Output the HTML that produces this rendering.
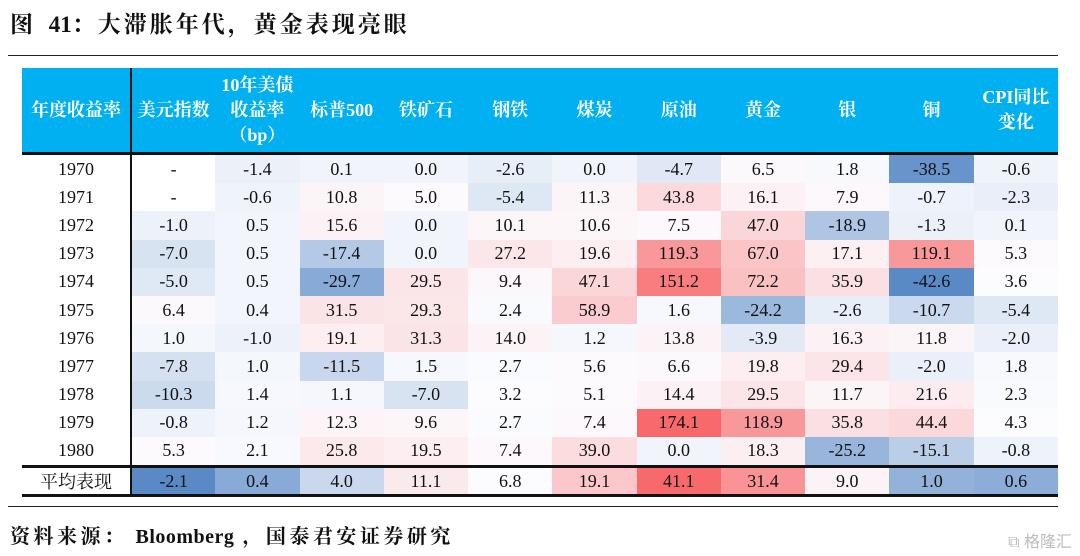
<!DOCTYPE html>
<html><head><meta charset="utf-8">
<style>
body{margin:0;width:1080px;height:556px;background:#fff;position:relative;overflow:hidden;font-family:"Liberation Serif","Noto Serif CJK SC",serif;}
.title{position:absolute;left:10px;top:6px;font-size:23px;font-weight:bold;color:#111;font-family:"Liberation Serif","Noto Serif CJK SC",serif;letter-spacing:3px;word-spacing:4px;}
.title .n{letter-spacing:0;}
.rule{position:absolute;left:8px;width:1050px;height:1px;background:#222;}
.src{position:absolute;left:10px;top:520px;font-size:20px;font-weight:bold;color:#111;letter-spacing:3.5px;}
.src .n{letter-spacing:0.5px;margin:0 8px;}
table{position:absolute;left:22px;top:68px;border-collapse:collapse;table-layout:fixed;width:1036px;}
th{background:#00b0f0;color:#fff;font-weight:bold;font-size:18px;height:84px;padding:0;line-height:25px;font-family:"Liberation Serif","Noto Serif CJK SC",serif;}
td{height:28.2px;padding:0;text-align:center;font-size:18px;color:#111;}
tr.avg td{border-top:3px solid #111;border-bottom:3px solid #111;height:25px;}
thead tr{border-bottom:3px solid #111;}
.c0{border-right:2px solid #111;}
.wm{position:absolute;right:8px;top:528px;color:#bbb;font-size:16px;font-family:"Liberation Sans","Noto Sans CJK SC",sans-serif;}
</style></head><body>
<div class="title">图 <span class="n">41</span>：大滞胀年代，黄金表现亮眼</div>
<div class="rule" style="top:55px"></div>
<table id="tbl">
<colgroup><col style="width:109px"><col span="11"></colgroup>
<thead><tr id="hdr"></tr></thead><tbody id="body"></tbody></table>
<div class="rule" style="top:506px"></div>
<div class="src">资料来源：<span class="n">Bloomberg</span>，国泰君安证券研究</div>
<div class="wm">⧉ 格隆汇</div>
<script>
const headers=["年度收益率","美元指数","10年美债<br>收益率<br>（bp）","标普500","铁矿石","钢铁","煤炭","原油","黄金","银","铜","CPI同比<br>变化"];
const years=["1970","1971","1972","1973","1974","1975","1976","1977","1978","1979","1980"];
const r1970=[null,-1.4,0.1,0.0,-2.6,0.0,-4.7,6.5,1.8,-38.5,-0.6];
const r1971=[null,-0.6,10.8,5.0,-5.4,11.3,43.8,16.1,7.9,-0.7,-2.3];
const r1972=[-1.0,0.5,15.6,0.0,10.1,10.6,7.5,47.0,-18.9,-1.3,0.1];
const r1973=[-7.0,0.5,-17.4,0.0,27.2,19.6,119.3,67.0,17.1,119.1,5.3];
const r1974=[-5.0,0.5,-29.7,29.5,9.4,47.1,151.2,72.2,35.9,-42.6,3.6];
const r1975=[6.4,0.4,31.5,29.3,2.4,58.9,1.6,-24.2,-2.6,-10.7,-5.4];
const r1976=[1.0,-1.0,19.1,31.3,14.0,1.2,13.8,-3.9,16.3,11.8,-2.0];
const r1977=[-7.8,1.0,-11.5,1.5,2.7,5.6,6.6,19.8,29.4,-2.0,1.8];
const r1978=[-10.3,1.4,1.1,-7.0,3.2,5.1,14.4,29.5,11.7,21.6,2.3];
const r1979=[-0.8,1.2,12.3,9.6,2.7,7.4,174.1,118.9,35.8,44.4,4.3];
const r1980=[5.3,2.1,25.8,19.5,7.4,39.0,0.0,18.3,-25.2,-15.1,-0.8];
const avgLabel="平均表现";
const avgVals=[-2.1,0.4,4.0,11.1,6.8,19.1,41.1,31.4,9.0,1.0,0.6];
const rows=[r1970,r1971,r1972,r1973,r1974,r1975,r1976,r1977,r1978,r1979,r1980];

function median(a){const s=a.slice().sort((x,y)=>x-y);const n=s.length;return n%2?s[(n-1)/2]:(s[n/2-1]+s[n/2])/2;}
function mix(c1,c2,t){return 'rgb('+c1.map((v,i)=>Math.round(v+(c2[i]-v)*t)).join(',')+')';}
const BLUE=[90,138,198],WHITE=[252,252,255],RED=[248,105,107];
function scale(vals){const v=vals.filter(x=>x!==null);const mn=Math.min(...v),mx=Math.max(...v),md=median(v);
 return x=>{if(x===null)return '#fff';if(x>=md)return mix(WHITE,RED,mx===md?0:(x-md)/(mx-md));return mix(WHITE,BLUE,(md-x)/(md-mn));};}
const colorMain=scale([].concat(...rows));
const colorAvg=scale(avgVals);

const hdr=document.getElementById('hdr');
headers.forEach((h,i)=>{const th=document.createElement('th');th.innerHTML=h;if(i===0)th.className='c0';


hdr.appendChild(th);});
const body=document.getElementById('body');
function addRow(label,vals,cf,cls){const tr=document.createElement('tr');if(cls)tr.className=cls;
 const td0=document.createElement('td');td0.className='c0';td0.textContent=label;
 
 
 tr.appendChild(td0);
 vals.forEach(v=>{const td=document.createElement('td');td.textContent=v===null?'-':v.toFixed(1);td.style.background=cf(v);
 
 
 tr.appendChild(td);});
 body.appendChild(tr);}
rows.forEach((r,i)=>addRow(years[i],r,colorMain,''));
addRow(avgLabel,avgVals,colorAvg,'avg');
</script>
</body></html>
